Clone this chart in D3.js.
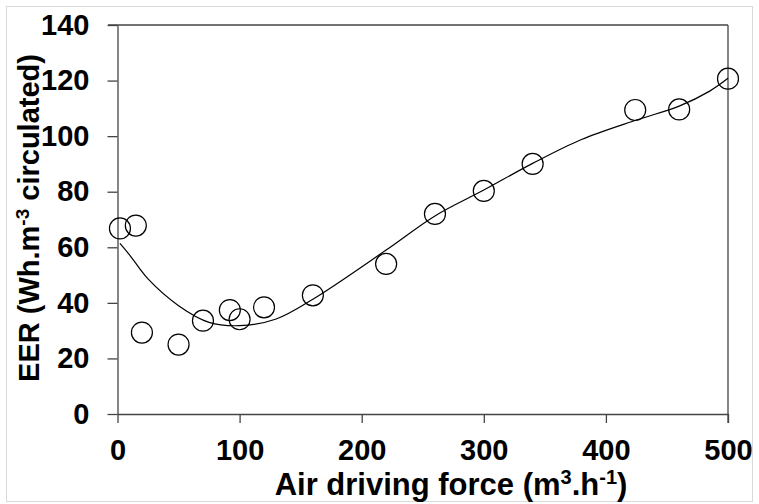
<!doctype html>
<html lang="en">
  <head>
    <meta charset="utf-8">
    <title>EER vs air driving force</title>
    <script src="https://d3js.org/d3.v7.min.js"></script>
    <style>
    body { margin: 0; background: #fff; }
    text { font-family: "Liberation Sans", Arial, sans-serif; font-weight: bold; fill: #000; }
    .axis path, .axis line { stroke: #444; stroke-width: 1.3; }
    </style>
  </head>

  <body>
    <svg width="759" height="504"></svg>

    <script>
      // measured points
      var airForce = [2, 15, 20, 50, 70, 92, 100, 120, 160, 220, 260, 300, 340, 424, 460, 500];
      var eer = [66.8, 67.8, 29.3, 25, 33.6, 37.4, 34.1, 38.4, 42.7, 54, 72, 80.3, 90, 109.4, 109.6, 120.7];

      // fitted trend line
      var trendX = [2, 10, 25, 50, 75, 100, 130, 160, 220, 260, 300, 340, 380, 425, 460, 485, 500];
      var trendY = [61.4, 57.2, 48.6, 39, 33, 31.8, 34.2, 41.3, 59, 71.3, 80.6, 90.2, 98.8, 105.8, 110.8, 116.2, 120.8];

      var xTicks = [0, 100, 200, 300, 400, 500];
      var yTicks = [0, 20, 40, 60, 80, 100, 120, 140];

      var svg = d3.select('svg');

      // light outer frame
      svg.append('rect')
        .attr('x', 6.5).attr('y', 6.5)
        .attr('width', 746).attr('height', 495)
        .attr('fill', 'none')
        .attr('stroke', '#d9d9d9');

      var x = d3.scaleLinear().domain([0, 500]).range([117.5, 728]);
      var y = d3.scaleLinear().domain([0, 140]).range([414, 25]);

      // top and right frame lines
      svg.append('line')
        .attr('x1', 108).attr('x2', x(500))
        .attr('y1', y(140)).attr('y2', y(140))
        .attr('stroke', '#444').attr('stroke-width', 1.3);
      svg.append('line')
        .attr('x1', x(500)).attr('x2', x(500))
        .attr('y1', y(140)).attr('y2', 423)
        .attr('stroke', '#444').attr('stroke-width', 1.3);

      var xAxis = svg.append('g')
        .attr('class', 'axis')
        .attr('transform', 'translate(0,' + y(0) + ')')
        .call(d3.axisBottom(x).tickValues(xTicks).tickSize(9).tickSizeOuter(0).tickPadding(16));
      xAxis.selectAll('text').attr('font-size', 29).attr('dy', '0.71em');

      var yAxis = svg.append('g')
        .attr('class', 'axis')
        .attr('transform', 'translate(' + x(0) + ',0)')
        .call(d3.axisLeft(y).tickValues(yTicks).tickSize(10).tickSizeOuter(0).tickPadding(18));
      yAxis.selectAll('text').attr('font-size', 29);

      // trend curve
      var pts = trendX.map(function(d, i){ return [d, trendY[i]]; });
      svg.append('path')
        .datum(pts)
        .attr('fill', 'none')
        .attr('stroke', '#000')
        .attr('stroke-width', 1.2)
        .attr('d', d3.line()
          .x(function(d){ return x(d[0]); })
          .y(function(d){ return y(d[1]); })
          .curve(d3.curveCatmullRom.alpha(0.5)));

      // circles
      svg.selectAll('circle.pt')
        .data(airForce)
        .enter().append('circle')
          .attr('class', 'pt')
          .attr('cx', function(d){ return x(d); })
          .attr('cy', function(d, i){ return y(eer[i]); })
          .attr('r', 10.5)
          .attr('fill', 'none')
          .attr('stroke', '#000')
          .attr('stroke-width', 1.2);

      // axis titles
      var xt = svg.append('text')
        .attr('x', 451).attr('y', 495)
        .attr('text-anchor', 'middle')
        .attr('font-size', 31);
      xt.append('tspan').text('Air driving force (m');
      xt.append('tspan').attr('font-size', 20).attr('dy', -11).text('3');
      xt.append('tspan').attr('dy', 11).text('.h');
      xt.append('tspan').attr('font-size', 20).attr('dy', -11).text('-1');
      xt.append('tspan').attr('dy', 11).text(')');

      var yt = svg.append('text')
        .attr('transform', 'translate(39,218) rotate(-90)')
        .attr('text-anchor', 'middle')
        .attr('font-size', 29);
      yt.append('tspan').text('EER (Wh.m');
      yt.append('tspan').attr('font-size', 19).attr('dy', -10).text('-3');
      yt.append('tspan').attr('dy', 10).text(' circulated)');
    </script>
  </body>
</html>
